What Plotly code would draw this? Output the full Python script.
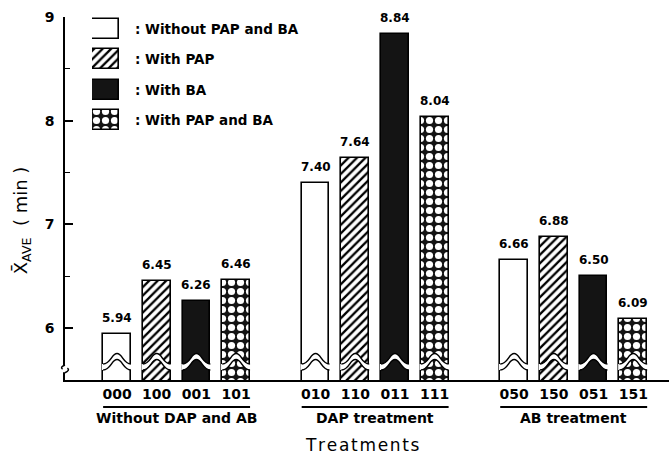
import plotly.graph_objects as go

# ---- data -------------------------------------------------------------
codes = ["000", "100", "001", "101",
         "010", "110", "011", "111",
         "050", "150", "051", "151"]
values = [5.94, 6.45, 6.26, 6.46,
          7.40, 7.64, 8.84, 8.04,
          6.66, 6.88, 6.50, 6.09]
treatments = ["Without PAP and BA", "With PAP", "With BA", "With PAP and BA"]
groups = ["Without DAP and AB", "DAP treatment", "AB treatment"]
y_ticks = [6, 7, 8, 9]

# ---- layout constants ---------------------------------------------------
FONT = "DejaVu Sans"
BAR_W = 0.7
Y_MIN, Y_MAX = 5.5, 9.0
GAP = 5  # slots per group (4 bars + 1 empty)

n_per = len(treatments)
pos = [g * GAP + i for g in range(len(groups)) for i in range(n_per)]

styles = [
    dict(color="white"),
    dict(color="white", pattern=dict(shape="/", fgcolor="black", bgcolor="white",
                                     size=6, solidity=0.38, fillmode="replace")),
    dict(color="#141414"),
    dict(color="#141414", pattern=dict(shape=".", fgcolor="white", bgcolor="#141414",
                                       size=9, solidity=0.5, fillmode="replace")),
]

fig = go.Figure()
annotations = []
shapes = []

for i, name in enumerate(treatments):
    xs = [pos[k] for k in range(i, len(codes), n_per)]
    ys = [values[k] for k in range(i, len(codes), n_per)]
    fig.add_trace(go.Bar(
        x=xs, y=ys, width=BAR_W, name=name,
        marker=dict(line=dict(color="black", width=1.6), **styles[i]),
        showlegend=False,
    ))
    # value label above each bar
    for xv, yv in zip(xs, ys):
        annotations.append(dict(
            x=xv, xref="x", y=yv, yref="y", yshift=16, xanchor="center",
            yanchor="middle", text=f"{yv:.2f}", showarrow=False,
            font=dict(family=FONT, size=12, color="black", weight="bold")))

# legend swatches drawn as bars on an auxiliary axis pair
for i, name in enumerate(treatments):
    fig.add_trace(go.Bar(
        x=[1], y=[i], base=0, orientation="h", width=0.66,
        marker=dict(line=dict(color="black", width=1.6), **styles[i]),
        xaxis="x2", yaxis="y2", showlegend=False, hoverinfo="skip",
    ))

for i, name in enumerate(treatments):
    annotations.append(dict(
        x=0.1126, xref="paper", y=i, yref="y2", xanchor="left", yanchor="middle",
        text=": " + name, showarrow=False,
        font=dict(family=FONT, size=13.5, color="black", weight="bold")))

# value-axis break marks across every bar
LO, HI, DN = 5.655, 5.755, 0.058
for x in pos:
    xl, xr = x - BAR_W / 2, x + BAR_W / 2
    w = BAR_W

    def hump(off, reverse=False):
        lo, hi = LO - off, HI - off
        if not reverse:
            return (f"C{xl + 0.28 * w},{lo} {x - 0.2 * w},{hi} {x},{hi} "
                    f"C{x + 0.2 * w},{hi} {xr - 0.28 * w},{lo} {xr},{lo}")
        return (f"C{xr - 0.28 * w},{lo} {x + 0.2 * w},{hi} {x},{hi} "
                f"C{x - 0.2 * w},{hi} {xl + 0.28 * w},{lo} {xl},{lo}")

    band = (f"M{xl - 0.03},{LO} L{xl},{LO} " + hump(0) +
            f" L{xr + 0.03},{LO} L{xr + 0.03},{LO - DN} L{xr},{LO - DN} " +
            hump(DN, reverse=True) + f" L{xl - 0.03},{LO - DN} Z")
    shapes.append(dict(type="path", path=band, xref="x", yref="y",
                       fillcolor="white", line=dict(width=0), layer="above"))
    for off in (0.0, DN):
        shapes.append(dict(type="path", path=f"M{xl},{LO - off} " + hump(off),
                           xref="x", yref="y",
                           line=dict(color="black", width=1.5), layer="above"))

# break on the value axis
shapes.append(dict(type="rect", xref="paper", yref="y", x0=-0.006, x1=0.006,
                   y0=5.575, y1=5.64, fillcolor="white", line=dict(width=0), layer="above"))
shapes.append(dict(type="path", xref="paper", yref="y",
                   path="M0,5.645 Q-0.009,5.625 -0.004,5.605 M0.004,5.615 Q0.009,5.595 0,5.57",
                   line=dict(color="black", width=1.5), layer="above"))

# group captions with rules
for g, gname in enumerate(groups):
    first, last = pos[g * n_per], pos[g * n_per + n_per - 1]
    shapes.append(dict(type="line", xref="x", yref="paper",
                       x0=first - BAR_W / 2, x1=last + BAR_W / 2, y0=-0.0744, y1=-0.0744,
                       line=dict(color="black", width=2)))
    annotations.append(dict(
        x=(first + last) / 2, xref="x", y=-0.105, yref="paper",
        xanchor="center", yanchor="middle", text=gname, showarrow=False,
        font=dict(family=FONT, size=14, color="black", weight="bold")))

annotations.append(dict(
    x=6.17, xref="x", y=-0.179, yref="paper",
    xanchor="center", yanchor="middle", text="\u200a".join("Treatments"),
    showarrow=False, font=dict(family=FONT, size=17, color="black")))

annotations.append(dict(
    x=-0.0712, xref="paper", y=0.44, yref="paper", xanchor="center", yanchor="middle",
    textangle=-90, text="X\u0304<sub>AVE</sub>  ( min )", showarrow=False,
    font=dict(family=FONT, size=18, color="black")))

fig.update_layout(
    width=669, height=454,
    margin=dict(l=65, r=0, t=17, b=74),
    paper_bgcolor="white", plot_bgcolor="white",
    barmode="overlay", bargap=0,
    showlegend=False,
    xaxis=dict(range=[-1.31, 13.9], showgrid=False, zeroline=False,
               showline=True, linecolor="black", linewidth=2,
               tickvals=pos, ticktext=codes, ticks="",
               tickfont=dict(family=FONT, size=14, color="black", weight="bold")),
    yaxis=dict(range=[Y_MIN, Y_MAX], showgrid=False, zeroline=False,
               showline=True, linecolor="black", linewidth=1.6,
               tickvals=y_ticks, ticks="inside", ticklen=8, tickwidth=1.6,
               tickcolor="black", ticklabelstandoff=6,
               minor=dict(tickvals=[6.5, 7.5, 8.5], ticks="inside", ticklen=5,
                          tickwidth=1.4, tickcolor="black"),
               tickfont=dict(family=FONT, size=14, color="black", weight="bold")),
    xaxis2=dict(domain=[0.0447, 0.0894], range=[0, 1], anchor="y2",
                visible=False, fixedrange=True),
    yaxis2=dict(domain=[0.675, 1.0], range=[3.498, -0.396], anchor="x2",
                visible=False, fixedrange=True),
    shapes=shapes,
    annotations=annotations,
)

fig.write_html("out.html")
